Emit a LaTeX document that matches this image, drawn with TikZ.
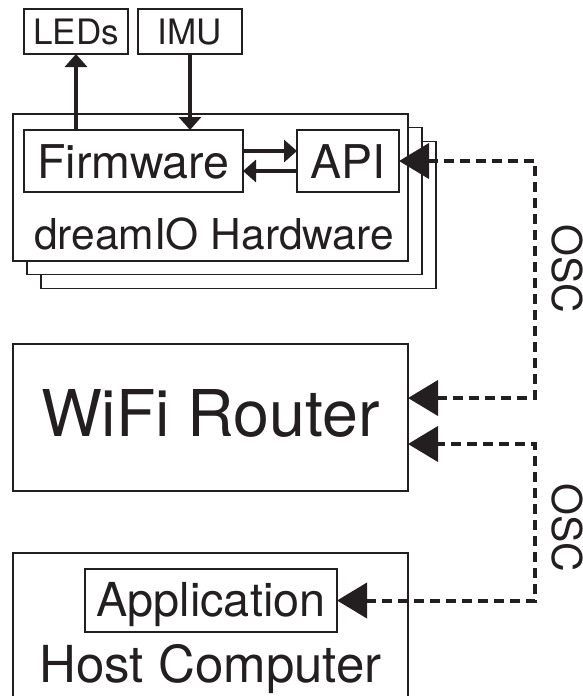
\documentclass[tikz,border=0pt]{standalone}
\usepackage{fontspec}
\setmainfont{TeX Gyre Heros}
\usetikzlibrary{arrows.meta}
\definecolor{ink}{HTML}{231F20}
\newcommand{\fsz}[1]{\fontsize{#1pt}{#1pt}\selectfont}

\begin{document}
\begin{tikzpicture}[x=1pt,y=-1pt,
  every node/.style={inner sep=0pt, outer sep=0pt, text=ink},
  boxed/.style={draw=ink, line width=2pt, fill=white, text depth=0pt},
  panel/.style={draw=ink, line width=1.8pt, fill=white,
    minimum width=395pt, minimum height=147pt},
  wire/.style={draw=ink, line width=4pt, -{Triangle[length=13pt,width=22pt]}},
  osc/.style={draw=ink, line width=4pt, dash pattern=on 10pt off 6pt,
    {Triangle[length=30pt,width=35pt]}-{Triangle[length=30pt,width=35pt]}},
  osclabel/.style={rotate=-90, font=\fsz{41}}
]
\useasboundingbox (0,0) rectangle (583,696);

% peripherals
\node[boxed, minimum width=104pt, minimum height=45pt, text height=25pt] (leds) at (76,31.5) {\fsz{35}LEDs};
\node[boxed, minimum width=104pt, minimum height=45pt, text height=25pt] (imu) at (190,31.5) {\fsz{35}IMU};

% stacked dreamIO hardware units
\node[panel] (hw3) at (238.5,215) {};
\node[panel] (hw2) at (224.5,201) {};
\node[panel] (hw) at (210.5,187.5) {};
\node[anchor=base] (hwlabel) at (214,249) {\fsz{42.5}dreamIO Hardware};

\node[boxed, minimum width=219pt, minimum height=62pt, text height=34pt] (fw) at (133.5,161) {\fsz{46.5}Firmware};
\node[boxed, minimum width=102pt, minimum height=62pt, text height=34pt] (api) at (348,161) {\fsz{46.5}API};

% router
\node[boxed, line width=2pt, minimum width=395pt, minimum height=147pt, text height=37pt] (router) at (210.5,417.5) {\fsz{64.5}WiFi Router};

% host computer (runs past the lower edge)
\node[boxed, line width=2pt, minimum width=395pt, minimum height=207pt] (host) at (210.5,656.5) {};
\node[anchor=base] (hostlabel) at (210.5,682) {\fsz{51}Host Computer};
\node[boxed, line width=1.8pt, minimum width=252pt, minimum height=63pt, text height=31pt] (app) at (211,600.5) {\fsz{46.8}Application};

% local wiring
\draw[wire] (fw.north -| leds) -- (leds.south);
\draw[wire] (imu.south) -- (imu |- fw.north);
\draw[wire] ([yshift=10pt]fw.east) -- ([yshift=10pt]api.west);
\draw[wire] ([yshift=-10pt]api.west) -- ([yshift=-10pt]fw.east);

% OSC links through the router
\coordinate (busx) at (535,0);
\coordinate (rtop) at ([yshift=19.5pt]router.east);
\coordinate (rbot) at ([yshift=-26.5pt]router.east);
\draw[osc] (api.east) -- (api.east -| busx) -- (busx |- rtop) -- (rtop);
\draw[osc] (app.east) -- (app.east -| busx) -- (busx |- rbot) -- (rbot);
\node[osclabel] (osc1) at (567,269) {OSC};
\node[osclabel] (osc2) at (567,528) {OSC};
\end{tikzpicture}
\end{document}
